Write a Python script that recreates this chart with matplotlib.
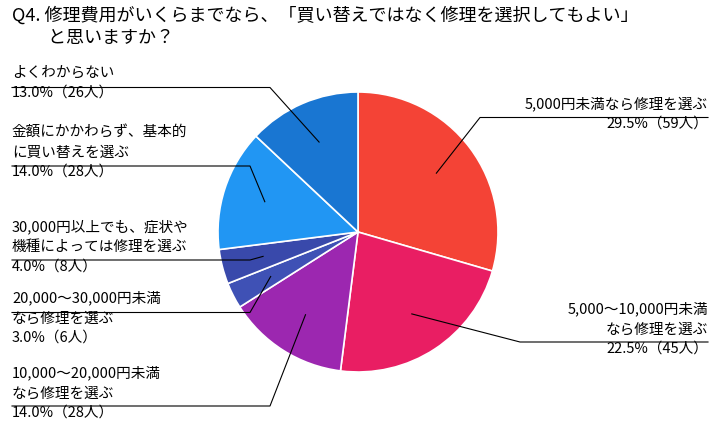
import matplotlib
matplotlib.use("Agg")
import matplotlib.pyplot as plt
import numpy as np

plt.rcParams['font.family'] = ['Noto Sans CJK JP', 'DejaVu Sans']

labels = ["5,000円未満なら修理を選ぶ", "5,000〜10,000円未満\nなら修理を選ぶ",
          "10,000〜20,000円未満\nなら修理を選ぶ", "20,000〜30,000円未満\nなら修理を選ぶ",
          "30,000円以上でも、症状や\n機種によっては修理を選ぶ", "金額にかかわらず、基本的\nに買い替えを選ぶ",
          "よくわからない"]
pcts = [29.5, 22.5, 14.0, 3.0, 4.0, 14.0, 13.0]
counts = [59, 45, 28, 6, 8, 28, 26]
colors = ["#F44336", "#E91E63", "#9C27B0", "#3F51B5", "#3949AB", "#2196F3", "#1976D2"]

W, H = 720, 442
fig = plt.figure(figsize=(7.2, 4.42), dpi=100)
cx, cy, r = 358, 232, 140
ax = fig.add_axes([(cx - r) / W, (H - cy - r) / H, 2 * r / W, 2 * r / H])
ax.pie(counts, colors=colors, startangle=90, counterclock=False,
       wedgeprops=dict(edgecolor='white', linewidth=1.2))
ax.set_xlim(-1, 1); ax.set_ylim(-1, 1); ax.set_aspect('auto')
ax.axis('off')

fig.text(12 / W, 1 - 6 / H, "Q4. 修理費用がいくらまでなら、「買い替えではなく修理を選択してもよい」\n　　と思いますか？",
         fontsize=13, va='top', ha='left', linespacing=1.3)

layout = [
    (708, 96, 'right', 480, 1),
    (708, 302, 'right', 520, 2),
    (12, 366, 'left', 270, 2),
    (12, 291, 'left', 250, 1),
    (12, 220, 'left', 250, 2),
    (12, 126, 'left', 250, 2),
    (12, 66, 'left', 270, 1),
]
total = sum(counts)
cum = 0
for (lab, p, n, (x, y, side, lx, ln)) in zip(labels, pcts, counts, layout):
    mid = 90 - (cum + n / 2) / total * 360
    cum += n
    txt = f"{lab}\n{p:.1f}%（{n}人）"
    fig.text(x / W, 1 - y / H, txt, fontsize=10.5, va='top', ha=side, linespacing=1.5)
    ly = y + ln * 18.5 + 3
    px = cx + 0.7 * r * np.cos(np.radians(mid))
    py = cy - 0.7 * r * np.sin(np.radians(mid))
    xs = [x, lx, px]
    ys = [ly, ly, py]
    fig.add_artist(plt.Line2D(np.array(xs) / W, 1 - np.array(ys) / H, color='black', lw=0.8))

fig.savefig("out.png", dpi=100, facecolor='white')
